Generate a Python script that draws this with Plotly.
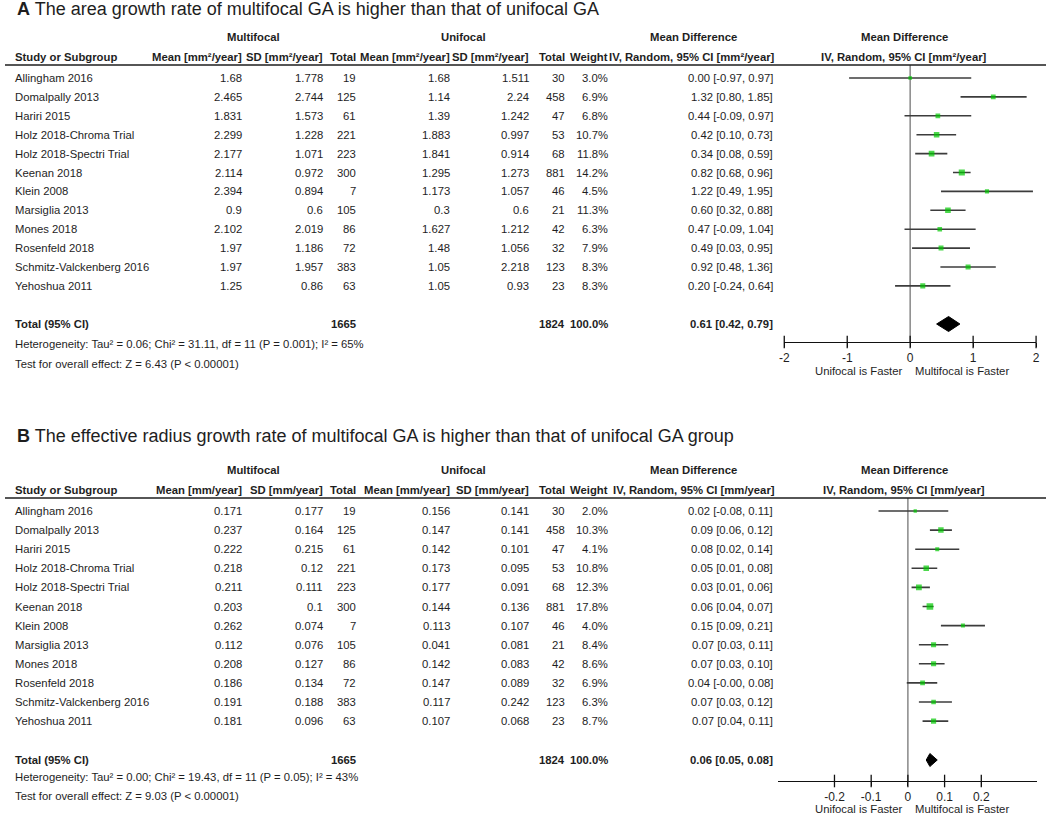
import plotly.graph_objects as go

W, H = 1050, 816

# ---------------- data ----------------
studies = ["Allingham 2016", "Domalpally 2013", "Hariri 2015", "Holz 2018-Chroma Trial",
           "Holz 2018-Spectri Trial", "Keenan 2018", "Klein 2008", "Marsiglia 2013",
           "Mones 2018", "Rosenfeld 2018", "Schmitz-Valckenberg 2016", "Yehoshua 2011"]

# Panel A: area growth rate [mm²/year]
a_multi_mean = [1.68, 2.465, 1.831, 2.299, 2.177, 2.114, 2.394, 0.9, 2.102, 1.97, 1.97, 1.25]
a_multi_sd = [1.778, 2.744, 1.573, 1.228, 1.071, 0.972, 0.894, 0.6, 2.019, 1.186, 1.957, 0.86]
a_multi_n = [19, 125, 61, 221, 223, 300, 7, 105, 86, 72, 383, 63]
a_uni_mean = [1.68, 1.14, 1.39, 1.883, 1.841, 1.295, 1.173, 0.3, 1.627, 1.48, 1.05, 1.05]
a_uni_sd = [1.511, 2.24, 1.242, 0.997, 0.914, 1.273, 1.057, 0.6, 1.212, 1.056, 2.218, 0.93]
a_uni_n = [30, 458, 47, 53, 68, 881, 46, 21, 42, 32, 123, 23]
a_weight = [3.0, 6.9, 6.8, 10.7, 11.8, 14.2, 4.5, 11.3, 6.3, 7.9, 8.3, 8.3]
a_md = [0.00, 1.32, 0.44, 0.42, 0.34, 0.82, 1.22, 0.60, 0.47, 0.49, 0.92, 0.20]
a_lo = [-0.97, 0.80, -0.09, 0.10, 0.08, 0.68, 0.49, 0.32, -0.09, 0.03, 0.48, -0.24]
a_hi = [0.97, 1.85, 0.97, 0.73, 0.59, 0.96, 1.95, 0.88, 1.04, 0.95, 1.36, 0.64]
a_total = {"n_multi": 1665, "n_uni": 1824, "weight": 100.0, "md": 0.61, "lo": 0.42, "hi": 0.79}
a_het = "Heterogeneity: Tau² = 0.06; Chi² = 31.11, df = 11 (P = 0.001); I² = 65%"
a_test = "Test for overall effect: Z = 6.43 (P < 0.00001)"
a_ticks = [-2, -1, 0, 1, 2]
a_ticktext = ["-2", "-1", "0", "1", "2"]

# Panel B: effective radius growth rate [mm/year]
b_multi_mean = [0.171, 0.237, 0.222, 0.218, 0.211, 0.203, 0.262, 0.112, 0.208, 0.186, 0.191, 0.181]
b_multi_sd = [0.177, 0.164, 0.215, 0.12, 0.111, 0.1, 0.074, 0.076, 0.127, 0.134, 0.188, 0.096]
b_multi_n = [19, 125, 61, 221, 223, 300, 7, 105, 86, 72, 383, 63]
b_uni_mean = [0.156, 0.147, 0.142, 0.173, 0.177, 0.144, 0.113, 0.041, 0.142, 0.147, 0.117, 0.107]
b_uni_sd = [0.141, 0.141, 0.101, 0.095, 0.091, 0.136, 0.107, 0.081, 0.083, 0.089, 0.242, 0.068]
b_uni_n = [30, 458, 47, 53, 68, 881, 46, 21, 42, 32, 123, 23]
b_weight = [2.0, 10.3, 4.1, 10.8, 12.3, 17.8, 4.0, 8.4, 8.6, 6.9, 6.3, 8.7]
b_md = [0.02, 0.09, 0.08, 0.05, 0.03, 0.06, 0.15, 0.07, 0.07, 0.04, 0.07, 0.07]
b_lo = [-0.08, 0.06, 0.02, 0.01, 0.01, 0.04, 0.09, 0.03, 0.03, -0.003, 0.03, 0.04]
b_hi = [0.11, 0.12, 0.14, 0.08, 0.06, 0.07, 0.21, 0.11, 0.10, 0.08, 0.12, 0.11]
b_total = {"n_multi": 1665, "n_uni": 1824, "weight": 100.0, "md": 0.06, "lo": 0.05, "hi": 0.08}
b_het = "Heterogeneity: Tau² = 0.00; Chi² = 19.43, df = 11 (P = 0.05); I² = 43%"
b_test = "Test for overall effect: Z = 9.03 (P < 0.00001)"
b_ticks = [-0.2, -0.1, 0, 0.1, 0.2]
b_ticktext = ["-0.2", "-0.1", "0", "0.1", "0.2"]

# ---------------- style / layout ----------------
FONT = "Liberation Sans, Arial, sans-serif"
FS = 11.3
TXT = "#1e1e1e"
GREEN = "#00c800"

def px(x):
    return x / W

def py(y):
    return 1 - y / H

fig = go.Figure()
annotations = []
shapes = []

def text(x, y, s, anchor="right", bold=False, size=FS):
    if bold:
        s = "<b>" + s + "</b>"
    annotations.append(dict(x=px(x), y=py(y), xref="paper", yref="paper", text=s,
                            showarrow=False, xanchor=anchor, yanchor="middle",
                            borderpad=0, font=dict(family=FONT, size=size, color=TXT)))

def ci_str(m, lo, hi):
    return "{:.2f} [{:.2f}, {:.2f}]".format(m, lo, hi)

# column right edges (pixels)
COL = dict(mm=240, msd=322, mn=355, um=450, usd=530, un=566, w=609, ci=776)

def panel(cfg):
    y0 = cfg["y0"]
    dy = cfg["dy"]
    unit = cfg["unit"]
    text(11, cfg["y_title"], "<b>" + cfg["letter"] + "</b> " + cfg["title"], anchor="left", size=18)
    yh1, yh2 = cfg["y_h1"], cfg["y_h2"]
    text(251, yh1, "Multifocal", anchor="center", bold=True)
    text(462, yh1, "Unifocal", anchor="center", bold=True)
    text(694, yh1, "Mean Difference", anchor="center", bold=True)
    text(907, yh1, "Mean Difference", anchor="center", bold=True)
    text(9, yh2, "Study or Subgroup", anchor="left", bold=True)
    text(COL["mm"], yh2, "Mean [" + unit + "]", bold=True)
    text(COL["msd"], yh2, "SD [" + unit + "]", bold=True)
    text(COL["mn"], yh2, "Total", bold=True)
    text(COL["um"], yh2, "Mean [" + unit + "]", bold=True)
    text(COL["usd"], yh2, "SD [" + unit + "]", bold=True)
    text(COL["un"], yh2, "Total", bold=True)
    text(COL["w"], yh2, "Weight", bold=True)
    text(778, yh2, "IV, Random, 95% CI [" + unit + "]", bold=True)
    text(907, yh2, "IV, Random, 95% CI [" + unit + "]", anchor="center", bold=True)
    shapes.append(dict(type="line", xref="paper", yref="paper", x0=0, x1=1,
                       y0=py(cfg["y_line"]), y1=py(cfg["y_line"]),
                       line=dict(color="#1e1e1e", width=1.3)))
    ys = []
    for i, s in enumerate(studies):
        y = y0 + dy * i
        ys.append(y)
        text(9, y, s, anchor="left")
        text(COL["mm"], y, str(cfg["mm"][i]))
        text(COL["msd"], y, str(cfg["msd"][i]))
        text(COL["mn"], y, str(cfg["mn"][i]))
        text(COL["um"], y, str(cfg["um"][i]))
        text(COL["usd"], y, str(cfg["usd"][i]))
        text(COL["un"], y, str(cfg["un"][i]))
        text(COL["w"], y, "{:.1f}%".format(cfg["w"][i]))
        text(COL["ci"], y, ci_str(cfg["md"][i], cfg["lo"][i], cfg["hi"][i]))
    tot = cfg["total"]
    yt = cfg["y_total"]
    text(9, yt, "Total (95% CI)", anchor="left", bold=True)
    text(COL["mn"], yt, str(tot["n_multi"]), bold=True)
    text(COL["un"], yt, str(tot["n_uni"]), bold=True)
    text(COL["w"], yt, "{:.1f}%".format(tot["weight"]), bold=True)
    text(COL["ci"], yt, ci_str(tot["md"], tot["lo"], tot["hi"]), bold=True)
    text(9, cfg["y_het"], cfg["het"], anchor="left")
    text(9, cfg["y_test"], cfg["test"], anchor="left")
    text(907, cfg["y_dir"], "Unifocal is Faster", anchor="right", size=11.3)
    text(917, cfg["y_dir"], "Multifocal is Faster", anchor="left", size=11.3)

    xa, ya = cfg["xa"], cfg["ya"]
    # zero line
    fig.add_trace(go.Scatter(x=[0, 0], y=[cfg["y_line"], cfg["y_axis"]], mode="lines",
                             line=dict(color="#8f8f8f", width=1.6), xaxis=xa, yaxis=ya,
                             hoverinfo="skip", showlegend=False))
    # tick marks crossing the axis line
    fig.add_trace(go.Scatter(x=cfg["ticks"], y=[cfg["y_axis"]] * len(cfg["ticks"]), mode="markers",
                             marker=dict(symbol="line-ns", size=9, line=dict(color="#111111", width=1.3)),
                             xaxis=xa, yaxis=ya, hoverinfo="skip", showlegend=False, cliponaxis=False))
    # CI lines
    cx, cy = [], []
    for i in range(len(studies)):
        cx += [cfg["lo"][i], cfg["hi"][i], None]
        cy += [ys[i], ys[i], None]
    fig.add_trace(go.Scatter(x=cx, y=cy, mode="lines", line=dict(color="#3c3c3c", width=1.6),
                             xaxis=xa, yaxis=ya, hoverinfo="skip", showlegend=False))
    # squares sized by weight
    sizes = [1.6 + 1.2 * (w ** 0.5) for w in cfg["w"]]
    fig.add_trace(go.Scatter(x=cfg["md"], y=ys, mode="markers",
                             marker=dict(symbol="square", size=sizes, color=GREEN,
                                         line=dict(width=0)),
                             xaxis=xa, yaxis=ya, showlegend=False))
    # pooled diamond
    hh = cfg["dh"]
    fig.add_trace(go.Scatter(x=[tot["lo"], tot["md"], tot["hi"], tot["md"], tot["lo"]],
                             y=[yt, yt - hh, yt, yt + hh, yt], mode="lines", fill="toself",
                             fillcolor="black", line=dict(color="black", width=1),
                             xaxis=xa, yaxis=ya, showlegend=False, hoverinfo="skip"))

panel(dict(letter="A", title="The area growth rate of multifocal GA is higher than that of unifocal GA",
           unit="mm²/year", y_title=9, y_h1=37, y_h2=57, y_line=65, y0=78, dy=18.9,
           y_total=324, y_het=344, y_test=364, y_axis=342, y_dir=371, dh=7.5,
           ticks=a_ticks,
           mm=a_multi_mean, msd=a_multi_sd, mn=a_multi_n, um=a_uni_mean, usd=a_uni_sd,
           un=a_uni_n, w=a_weight, md=a_md, lo=a_lo, hi=a_hi, total=a_total,
           het=a_het, test=a_test, xa="x", ya="y"))
panel(dict(letter="B", title="The effective radius growth rate of multifocal GA is higher than that of unifocal GA group",
           unit="mm/year", y_title=436, y_h1=470, y_h2=490, y_line=498, y0=511, dy=19.1,
           y_total=760, y_het=777, y_test=796, y_axis=781, y_dir=809, dh=6.5,
           ticks=b_ticks,
           mm=b_multi_mean, msd=b_multi_sd, mn=b_multi_n, um=b_uni_mean, usd=b_uni_sd,
           un=b_uni_n, w=b_weight, md=b_md, lo=b_lo, hi=b_hi, total=b_total,
           het=b_het, test=b_test, xa="x2", ya="y2"))

axis_common = dict(showgrid=False, zeroline=False, showline=True, linecolor="#111111",
                   linewidth=1.3, ticks="outside", ticklen=4, tickwidth=1.3, tickcolor="#111111",
                   tickfont=dict(family=FONT, size=12, color=TXT), fixedrange=True)

fig.update_layout(
    width=W, height=H, margin=dict(l=0, r=0, t=0, b=0),
    paper_bgcolor="white", plot_bgcolor="rgba(0,0,0,0)",
    xaxis=dict(domain=[px(786), px(1040)], range=[-2, 2], anchor="y",
               tickmode="array", tickvals=a_ticks, ticktext=a_ticktext, **axis_common),
    yaxis=dict(domain=[py(342), py(65)], range=[342, 65], visible=False, fixedrange=True),
    xaxis2=dict(domain=[px(780), px(1041)], range=[-0.353, 0.352], anchor="y2",
                tickmode="array", tickvals=b_ticks, ticktext=b_ticktext, **axis_common),
    yaxis2=dict(domain=[py(781), py(498)], range=[781, 498], visible=False, fixedrange=True),
    annotations=annotations, shapes=shapes, showlegend=False,
)

fig.write_html("out.html", config={"displayModeBar": False},
               post_script="document.body.style.margin='0';document.body.style.overflow='hidden';")
